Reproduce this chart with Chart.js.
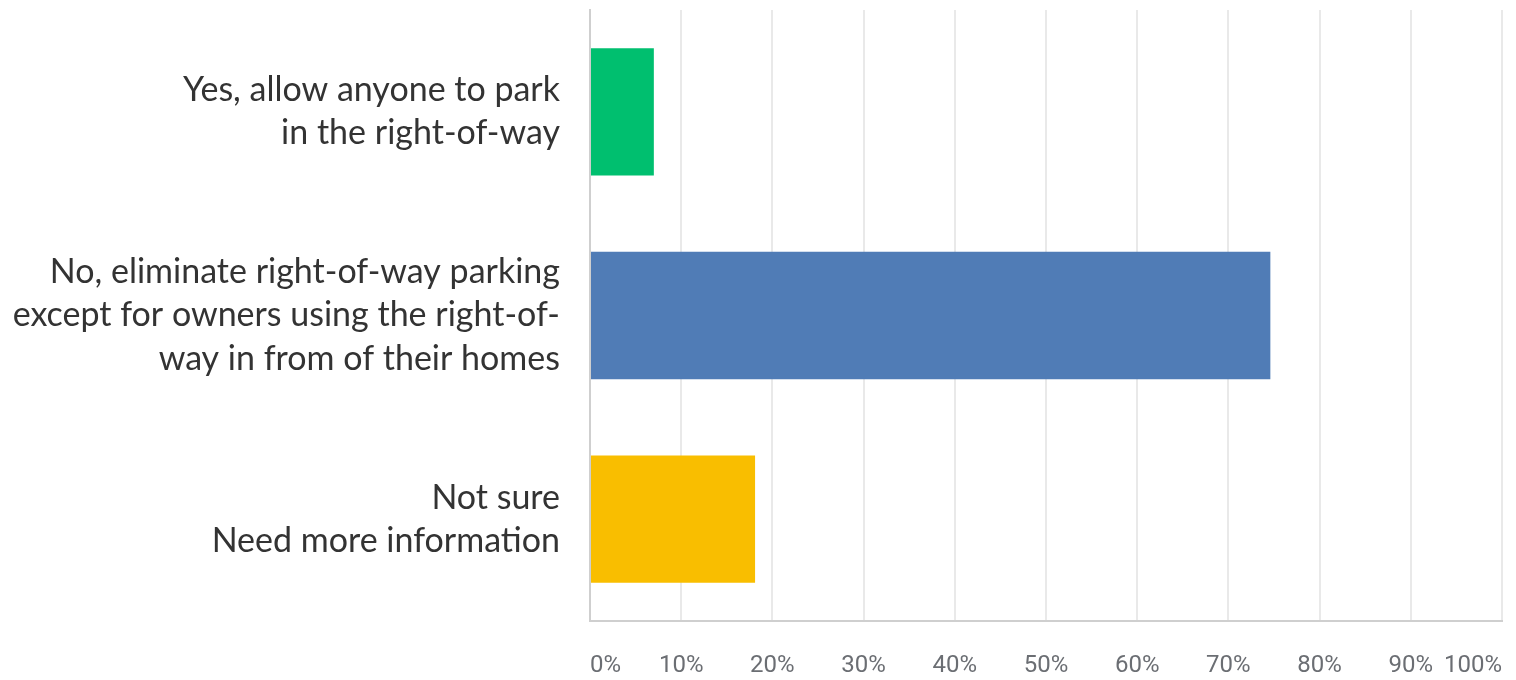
<!DOCTYPE html>
<html>
<head>
<meta charset="utf-8">
<script src="https://cdn.jsdelivr.net/npm/chart.js@4"></script>
<style>
  html, body { margin: 0; padding: 0; background: #fff; }
  #wrap { width: 1516px; height: 680px; }
</style>
</head>
<body>
<div id="wrap"><canvas id="surveyChart" width="1516" height="680"></canvas></div>
<script>
// survey answers (multi-line labels)
const categories = [
  ['Yes, allow anyone to park', 'in the right-of-way'],
  ['No, eliminate right-of-way parking', 'except for owners using the right-of-', 'way in from of their homes'],
  ['Not sure', 'Need more information']
];
const percentValues = [7.0, 74.6, 18.1];
const barColors = ['#00bf6f', '#507cb6', '#f9be00'];
const xTicks = [0, 10, 20, 30, 40, 50, 60, 70, 80, 90, 100];

// drop the automatic label-overflow padding so the plot fills the canvas
function noScalePadding(scale) {
  scale.paddingTop = 0;
  scale.paddingBottom = 0;
  scale.paddingLeft = 0;
  scale.paddingRight = 0;
}

const ctx = document.getElementById('surveyChart').getContext('2d');
const chart = new Chart(ctx, {
  type: 'bar',
  data: {
    labels: categories,
    datasets: [{
      data: percentValues,
      backgroundColor: barColors,
      borderWidth: 0,
      barPercentage: 0.625,
      categoryPercentage: 1
    }]
  },
  options: {
    indexAxis: 'y',
    responsive: false,
    animation: false,
    layout: {
      padding: { top: 10, right: 14, left: 0, bottom: 0 }
    },
    plugins: {
      legend: { display: false },
      tooltip: { enabled: false }
    },
    scales: {
      x: {
        min: 0,
        max: 100,
        afterBuildTicks: function(scale) {
          scale.ticks = xTicks.map(v => ({ value: v }));
        },
        afterFit: function(scale) {
          scale.height = 59;
          noScalePadding(scale);
        },
        border: { color: '#cfcfcf', width: 2 },
        grid: {
          color: '#e9e9e9',
          lineWidth: 2,
          drawTicks: false
        },
        ticks: {
          align: 'inner',
          padding: 31,
          color: '#6b6e73',
          font: { family: 'Roboto', size: 24 },
          callback: function(value) { return value + '%'; }
        }
      },
      y: {
        afterFit: function(scale) {
          scale.width = 590;
          noScalePadding(scale);
        },
        border: { color: '#cfcfcf', width: 2 },
        grid: { display: false, drawTicks: false },
        ticks: {
          padding: 30,
          color: '#333333',
          font: { family: 'Lato', size: 34, lineHeight: 1.27 }
        }
      }
    }
  }
});
</script>
</body>
</html>
